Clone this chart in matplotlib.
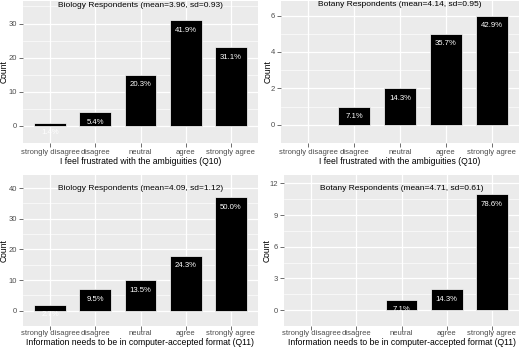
import matplotlib
matplotlib.use("Agg")
import matplotlib.pyplot as plt
import numpy as np

plt.rcParams["font.family"] = ["Liberation Sans", "DejaVu Sans"]

categories = ["strongly disagree", "disagree", "neutral", "agree", "strongly agree"]

bio_q10 = [1, 4, 15, 31, 23]
bot_q10 = [0, 1, 2, 5, 6]
bio_q11 = [2, 7, 10, 18, 37]
bot_q11 = [0, 0, 1, 2, 11]

titles = [
    "Biology Respondents (mean=3.96, sd=0.93)",
    "Botany Respondents (mean=4.14, sd=0.95)",
    "Biology Respondents (mean=4.09, sd=1.12)",
    "Botany Respondents (mean=4.71, sd=0.61)",
]
xlabels = [
    "I feel frustrated with the ambiguities (Q10)",
    "I feel frustrated with the ambiguities (Q10)",
    "Information needs to be in computer-accepted format (Q11)",
    "Information needs to be in computer-accepted format (Q11)",
]
yticks = [[0, 10, 20, 30], [0, 2, 4, 6], [0, 10, 20, 30, 40], [0, 3, 6, 9, 12]]
ylims = [(-1.1, 36.6), (-0.2, 6.8), (-1.6, 44.3), (-0.47, 12.8)]
title_y = [35.4, 6.6, 40.0, 11.56]

# panel boxes in pixels: left, right, top, bottom
boxes = [(23, 258, 1, 143), (281, 519, 1, 143), (23, 258, 175, 326), (284, 519, 175, 326)]
ylab_x = [-0.079, -0.055, -0.081, -0.072]
xlab_y = [-0.132, -0.132, -0.11, -0.11]
xpad = [1.5, 1.5, 0.3, 0.3]

W, H = 520, 348
fig = plt.figure(figsize=(W / 100, H / 100), dpi=100)

for i, counts in enumerate([bio_q10, bot_q10, bio_q11, bot_q11]):
    l, r, t, b = boxes[i]
    ax = fig.add_axes([l / W, 1 - b / H, (r - l) / W, (b - t) / H])
    ax.set_facecolor("#EBEBEB")
    for s in ax.spines.values():
        s.set_visible(False)

    x = np.arange(1, len(categories) + 1)
    ax.set_xlim(0.4, 5.6)
    ax.set_ylim(*ylims[i])
    ax.set_xticks(x)
    ax.set_xticklabels(categories)
    ax.set_yticks(yticks[i])
    step = yticks[i][1] - yticks[i][0]
    minor = np.arange(yticks[i][0] - step / 2, ylims[i][1], step)
    ax.set_yticks(minor, minor=True)
    ax.tick_params(axis="both", which="major", length=2.75, width=0.5, color="#333333",
                   labelsize=5.5, labelcolor="#4D4D4D", pad=1.5)
    ax.tick_params(axis="x", which="major", pad=xpad[i])
    ax.tick_params(axis="y", which="minor", length=0)
    ax.set_axisbelow(True)
    ax.grid(True, which="major", color="white", linewidth=0.9)
    ax.grid(True, which="minor", axis="y", color="white", linewidth=0.45)

    total = sum(counts)
    ax.bar(x, counts, width=0.7, color="black", edgecolor="white", linewidth=0.5)
    for xi, c in zip(x, counts):
        if c > 0:
            ax.annotate(f"{100 * c / total:.1f}%", (xi, c), xytext=(0, -7.2),
                        textcoords="offset points", ha="center", va="center",
                        color="white", fontsize=5.6)

    ax.text(3, title_y[i], titles[i], ha="center", va="center", fontsize=6.0, color="black")
    ax.set_xlabel(xlabels[i], fontsize=6.2, color="black", va="center")
    ax.set_ylabel("Count", fontsize=6.2, color="black", va="center")
    ax.yaxis.set_label_coords(ylab_x[i], 0.5)
    ax.xaxis.set_label_coords(0.5, xlab_y[i])

fig.savefig("out.png", dpi=100)
